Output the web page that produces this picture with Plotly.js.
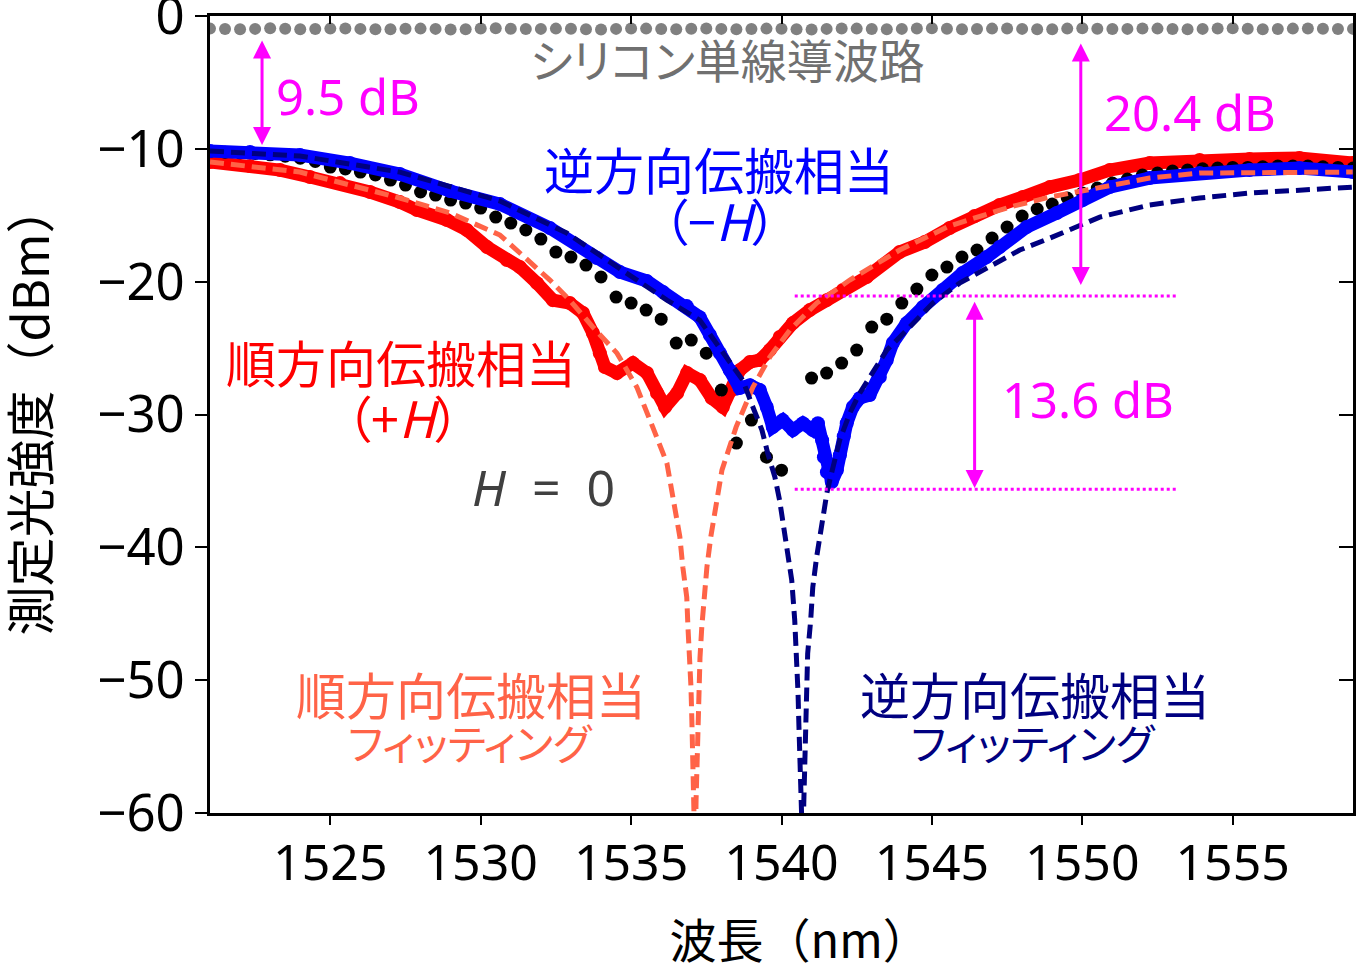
<!DOCTYPE html>
<html>
<head>
<meta charset="utf-8">
<script src="https://cdn.plot.ly/plotly-3.0.1.min.js"></script>
<style>
  html, body { margin: 0; padding: 0; background: #fff; }
  #chart { width: 1356px; height: 969px; }
  .annotation-text { font-feature-settings: "palt" 1; }
  .annotation[data-index="0"] .annotation-text,
  .annotation[data-index="1"] .annotation-text { font-feature-settings: normal; }
</style>
</head>
<body>
<div id="chart"></div>
<script>
// ---- Data ----
// Silicon single-line waveguide (gray dots)
const siX = [1521.0,1521.5,1522.0,1522.5,1523.0,1523.5,1524.0,1524.5,1525.0,1525.5,1526.0,1526.5,1527.0,1527.5,1528.0,1528.5,1529.0,1529.5,1530.0,1530.5,1531.0,1531.5,1532.0,1532.5,1533.0,1533.5,1534.0,1534.5,1535.0,1535.5,1536.0,1536.5,1537.0,1537.5,1538.0,1538.5,1539.0,1539.5,1540.0,1540.5,1541.0,1541.5,1542.0,1542.5,1543.0,1543.5,1544.0,1544.5,1545.0,1545.5,1546.0,1546.5,1547.0,1547.5,1548.0,1548.5,1549.0,1549.5,1550.0,1550.5,1551.0,1551.5,1552.0,1552.5,1553.0,1553.5,1554.0,1554.5,1555.0,1555.5,1556.0,1556.5,1557.0,1557.5,1558.0,1558.5,1559.0];
const siY = [-0.95,-0.98,-1.00,-0.97,-0.93,-0.96,-1.00,-0.98,-0.95,-0.94,-0.97,-1.00,-0.99,-0.96,-0.95,-0.97,-1.02,-1.00,-0.94,-0.93,-0.96,-0.98,-0.97,-0.95,-0.96,-1.00,-1.01,-0.97,-0.94,-0.95,-0.98,-0.99,-0.96,-0.94,-0.97,-1.00,-0.98,-0.95,-0.96,-0.99,-1.01,-0.97,-0.94,-0.95,-0.98,-1.00,-0.97,-0.94,-0.93,-0.96,-0.99,-0.98,-0.95,-0.94,-0.97,-1.00,-0.99,-0.95,-0.93,-0.96,-0.98,-0.97,-0.94,-0.95,-0.98,-1.00,-0.97,-0.94,-0.93,-0.96,-0.99,-0.98,-0.95,-0.94,-0.96,-0.98,-0.97];

// H = 0 (black dots)
const h0X = [1521.0,1521.5,1522.0,1522.5,1523.0,1523.5,1524.0,1524.5,1525.0,1525.5,1526.0,1526.5,1527.0,1527.5,1528.0,1528.5,1529.0,1529.5,1530.0,1530.5,1531.0,1531.5,1532.0,1532.5,1533.0,1533.5,1534.0,1534.5,1535.0,1535.5,1536.0,1536.5,1537.0,1537.5,1538.0,1538.5,1539.0,1539.5,1540.0,
             1541.0,1541.5,1542.0,1542.5,1543.0,1543.5,1544.0,1544.5,1545.0,1545.5,1546.0,1546.5,1547.0,1547.5,1548.0,1548.5,1549.0,1549.5,1550.0,1550.5,1551.0,1551.5,1552.0,1552.5,1553.0,1553.5,1554.0,1554.5,1555.0,1555.5,1556.0,1556.5,1557.0,1557.5,1558.0,1558.5,1559.0];
const h0Y = [-10.20,-10.25,-10.30,-10.35,-10.45,-10.55,-10.70,-10.95,-11.37,-11.52,-11.75,-11.97,-12.35,-12.73,-13.25,-13.48,-13.86,-14.08,-14.46,-15.14,-15.59,-16.11,-16.79,-17.77,-18.15,-18.75,-19.65,-21.16,-21.61,-22.14,-22.82,-24.62,-24.40,-25.38,-28.16,-32.15,-30.42,-33.21,-34.19,
             -27.26,-26.88,-26.13,-25.15,-23.42,-22.82,-21.61,-20.56,-19.50,-18.90,-18.15,-17.62,-16.72,-15.89,-15.06,-14.53,-14.16,-13.70,-13.33,-12.95,-12.58,-12.27,-11.97,-11.82,-11.67,-11.60,-11.50,-11.45,-11.40,-11.40,-11.35,-11.30,-11.30,-11.30,-11.35,-11.40,-11.45];

// Forward propagation (+H), red
const fwdX = [1521.00,1522.33,1523.33,1524.32,1525.32,1526.32,1527.31,1527.88,1528.88,1529.54,1530.21,1530.87,1531.30,1531.87,1532.40,1532.96,1533.40,1533.73,1533.96,1534.13,1534.53,1535.06,1535.53,1535.86,1536.13,1536.53,1536.86,1537.29,1537.68,1538.05,1538.35,1538.61,1538.95,1539.28,1539.61,1539.94,1540.38,1540.94,1541.50,1542.04,1542.83,1543.93,1544.76,1545.59,1546.42,1547.25,1548.02,1548.92,1549.91,1550.91,1552.24,1553.90,1555.56,1557.22,1558.99];
const fwdY = [-10.99,-11.30,-11.60,-12.12,-12.58,-13.25,-14.01,-14.61,-15.36,-16.11,-17.39,-18.37,-18.90,-20.11,-21.39,-21.61,-22.36,-23.87,-25.38,-26.43,-26.88,-26.13,-26.88,-28.39,-29.44,-28.39,-26.88,-27.41,-28.77,-29.44,-28.16,-26.66,-26.05,-25.90,-25.15,-24.17,-23.12,-22.14,-21.39,-20.63,-19.65,-17.77,-17.02,-15.96,-15.06,-14.23,-13.63,-12.88,-12.35,-11.60,-11.07,-10.84,-10.77,-10.69,-11.07];

// Backward propagation (-H), blue
const bwdX = [1521.00,1522.33,1523.99,1525.65,1527.31,1528.98,1530.64,1532.30,1533.86,1534.63,1535.52,1536.06,1536.85,1537.28,1537.62,1537.95,1538.28,1538.61,1538.95,1539.28,1539.51,1539.71,1540.04,1540.38,1540.71,1541.04,1541.21,1541.35,1541.41,1541.51,1541.67,1541.84,1541.94,1542.07,1542.17,1542.37,1542.60,1542.93,1543.27,1543.50,1543.70,1544.16,1544.70,1545.36,1546.02,1546.82,1547.25,1548.15,1549.15,1550.01,1550.91,1552.24,1553.90,1555.56,1557.22,1558.99];
const bwdY = [-10.17,-10.24,-10.47,-11.07,-11.90,-13.18,-14.16,-15.96,-18.22,-19.28,-19.95,-20.78,-21.84,-22.67,-24.02,-25.38,-26.66,-28.01,-27.79,-28.16,-29.44,-30.95,-30.42,-31.17,-30.65,-31.17,-30.65,-31.93,-33.21,-34.34,-35.09,-34.19,-33.06,-31.63,-30.65,-29.44,-28.77,-28.54,-27.18,-25.90,-24.62,-23.12,-21.91,-20.63,-19.35,-18.15,-17.39,-15.89,-14.83,-13.86,-12.88,-12.20,-11.82,-11.60,-11.45,-11.75];

// Forward fitting (coral dashed)
const fwdFitX = [1521.00,1523.99,1527.31,1528.98,1530.64,1532.30,1532.96,1533.73,1534.53,1535.19,1535.72,1536.19,1536.29,1536.39,1536.62,1536.72,1536.85,1536.89,1536.95,1536.99,1537.02,1537.05,1537.09,1537.13,1537.16,1537.19,1537.22,1537.26,1537.29,1537.35,1537.42,1537.52,1537.65,1537.85,1538.02,1538.49,1539.05,1539.61,1540.28,1541.17,1542.27,1543.37,1543.93,1545.59,1547.59,1548.92,1550.58,1552.24,1553.90,1556.13,1558.99];
const fwdFitY = [-10.99,-11.75,-13.70,-14.83,-16.49,-19.88,-21.39,-23.42,-25.38,-27.94,-30.95,-33.66,-34.94,-36.20,-39.20,-41.50,-43.75,-46.00,-48.30,-50.50,-53.00,-55.50,-59.00,-64.00,-59.00,-55.50,-53.00,-50.50,-48.30,-46.00,-43.75,-41.50,-39.20,-36.40,-34.19,-30.95,-27.94,-25.68,-23.64,-21.61,-19.88,-18.37,-17.62,-15.80,-14.38,-13.63,-12.95,-12.20,-11.82,-11.75,-11.75];

// Backward fitting (navy dashed)
const bwdFitX = [1521.00,1523.99,1527.31,1530.64,1532.86,1534.53,1536.19,1537.28,1538.18,1538.71,1539.05,1539.35,1539.54,1539.78,1539.94,1540.18,1540.34,1540.44,1540.50,1540.55,1540.58,1540.61,1540.66,1540.72,1540.74,1540.77,1540.81,1540.84,1540.87,1540.97,1541.04,1541.17,1541.34,1541.51,1541.61,1541.94,1542.27,1542.60,1542.93,1543.50,1544.26,1545.03,1545.92,1546.82,1547.92,1548.92,1550.58,1552.24,1553.90,1555.56,1557.22,1558.99];
const bwdFitY = [-10.17,-10.54,-11.75,-13.93,-16.34,-18.90,-21.39,-22.89,-25.68,-27.41,-29.44,-31.17,-32.90,-34.70,-36.50,-39.98,-42.47,-45.48,-47.97,-50.98,-53.50,-56.80,-59.00,-64.00,-59.30,-56.80,-53.50,-51.00,-48.00,-45.50,-43.00,-40.70,-38.20,-35.90,-34.90,-31.90,-29.90,-28.40,-27.20,-25.15,-23.42,-21.61,-20.11,-18.98,-17.62,-16.72,-15.14,-14.23,-13.70,-13.33,-13.10,-12.88];

const xTicks = [1525, 1530, 1535, 1540, 1545, 1550, 1555];
const yTicks = [-60, -50, -40, -30, -20, -10, 0];

// ---- Traces ----
const traces = [
  { x: siX, y: siY, type: 'scatter', mode: 'markers',
    marker: { color: '#808080', size: 12 }, hoverinfo: 'skip' },
  { x: fwdX, y: fwdY, type: 'scatter', mode: 'lines+markers',
    line: { color: '#FF0000', width: 13 }, marker: { color: '#FF0000', size: 14 } },
  { x: h0X, y: h0Y, type: 'scatter', mode: 'markers',
    marker: { color: '#000000', size: 13 } },
  { x: bwdX, y: bwdY, type: 'scatter', mode: 'lines+markers',
    line: { color: '#0000FF', width: 13 }, marker: { color: '#0000FF', size: 14 } },
  { x: fwdFitX, y: fwdFitY, type: 'scatter', mode: 'lines',
    line: { color: '#FF6347', width: 5, dash: '14px,7px' } },
  { x: bwdFitX, y: bwdFitY, type: 'scatter', mode: 'lines',
    line: { color: '#000080', width: 5, dash: '14px,7px' } },
  // invisible trace to anchor mirrored axes
  { x: [1530], y: [-30], xaxis: 'x2', yaxis: 'y2', type: 'scatter', mode: 'markers',
    marker: { opacity: 0 }, hoverinfo: 'skip' }
];

const MAG = '#FF00FF';
const cjk = 'Noto Sans CJK JP';
const lat = 'Noto Sans, Noto Sans CJK JP';

function label(text, x, y, color, size, family, xanchor) {
  return { text: text, x: x, y: y, xref: 'x', yref: 'y', showarrow: false,
    xanchor: xanchor || 'center', yanchor: 'middle', borderpad: 0,
    font: { family: family || cjk, size: size, color: color } };
}
function dblArrow(x, y1, y2) {
  return { x: x, y: y2, ax: x, ay: y1, xref: 'x', yref: 'y', axref: 'x', ayref: 'y',
    text: '', showarrow: true, arrowhead: 2, startarrowhead: 2, arrowside: 'end+start',
    arrowsize: 1.2, startarrowsize: 1.2, arrowwidth: 3, arrowcolor: MAG };
}

const annotations = [
  // axis titles (indices 0 and 1 keep normal full-width spacing)
  { text: '波長（nm）', xref: 'paper', yref: 'paper', x: 0.516, y: -0.1568,
    xanchor: 'center', yanchor: 'middle', showarrow: false, borderpad: 0,
    font: { family: cjk, size: 47, color: '#000' } },
  { text: '測定光強度（dBm）', xref: 'paper', yref: 'paper', x: -0.1601, y: 0.5056,
    xanchor: 'center', yanchor: 'middle', showarrow: false, textangle: -90, borderpad: 0,
    font: { family: cjk, size: 49, color: '#000' } },
  label('シリコン単線導波路', 1538.21, -3.15, '#707070', 46),
  label('逆方向伝搬相当', 1537.92, -11.45, '#0000FF', 50),
  label('（−<i>H</i>）', 1537.95, -15.25, '#0000FF', 50),
  label('順方向伝搬相当', 1527.35, -25.95, '#FF0000', 50),
  label('（+<i>H</i>）', 1527.41, -30.10, '#FF0000', 50),
  label('<i>H</i>\u00a0\u00a0=\u00a0\u00a00', 1532.10, -35.47, '#404040', 50, lat),
  label('順方向伝搬相当', 1529.67, -50.95, '#FF6347', 50),
  label('フィッティング', 1529.67, -54.65, '#FF6347', 42),
  label('逆方向伝搬相当', 1548.42, -50.95, '#000080', 50),
  label('フィッティング', 1548.38, -54.65, '#000080', 42),
  label('9.5 dB', 1523.16, -6.0, MAG, 49, lat, 'left'),
  label('20.4 dB', 1550.70, -7.2, MAG, 49, lat, 'left'),
  label('13.6 dB', 1547.30, -28.8, MAG, 49, lat, 'left'),
  dblArrow(1522.73, -1.73, -9.71),
  dblArrow(1549.95, -1.96, -20.26),
  dblArrow(1546.42, -21.39, -35.54)
];

const shapes = [
  { type: 'line', xref: 'x', yref: 'y', x0: 1540.44, x1: 1553.14, y0: -21.08, y1: -21.08,
    line: { color: MAG, width: 3, dash: 'dot' } },
  { type: 'line', xref: 'x', yref: 'y', x0: 1540.44, x1: 1553.14, y0: -35.62, y1: -35.62,
    line: { color: MAG, width: 3, dash: 'dot' } }
];

const axisCommon = { showgrid: false, zeroline: false, showline: true, linecolor: '#000',
  linewidth: 3, tickcolor: '#000', tickwidth: 2 };

const layout = {
  width: 1356, height: 969,
  margin: { l: 210, r: 3, t: 16, b: 156 },
  paper_bgcolor: '#fff', plot_bgcolor: '#fff',
  showlegend: false,
  font: { family: cjk, color: '#000' },
  xaxis: Object.assign({}, axisCommon, {
    range: [1521, 1559], tickvals: xTicks, ticks: 'outside', ticklen: 9,
    ticklabelstandoff: -5,
    tickfont: { family: lat, size: 50, color: '#000' }
  }),
  yaxis: Object.assign({}, axisCommon, {
    range: [-60, 0], tickvals: yTicks, ticks: 'outside', ticklen: 12,
    ticklabeloverflow: 'allow',
    tickfont: { family: lat, size: 51, color: '#000' }
  }),
  xaxis2: Object.assign({}, axisCommon, {
    overlaying: 'x', side: 'top', anchor: 'y2', range: [1521, 1559], tickvals: xTicks,
    ticks: 'inside', ticklen: 8, showticklabels: false
  }),
  yaxis2: Object.assign({}, axisCommon, {
    overlaying: 'y', side: 'right', anchor: 'x2', range: [-60, 0], tickvals: yTicks,
    ticks: 'inside', ticklen: 14, showticklabels: false
  }),
  annotations: annotations,
  shapes: shapes
};

Plotly.newPlot('chart', traces, layout, { displayModeBar: false, staticPlot: true });
</script>
</body>
</html>
